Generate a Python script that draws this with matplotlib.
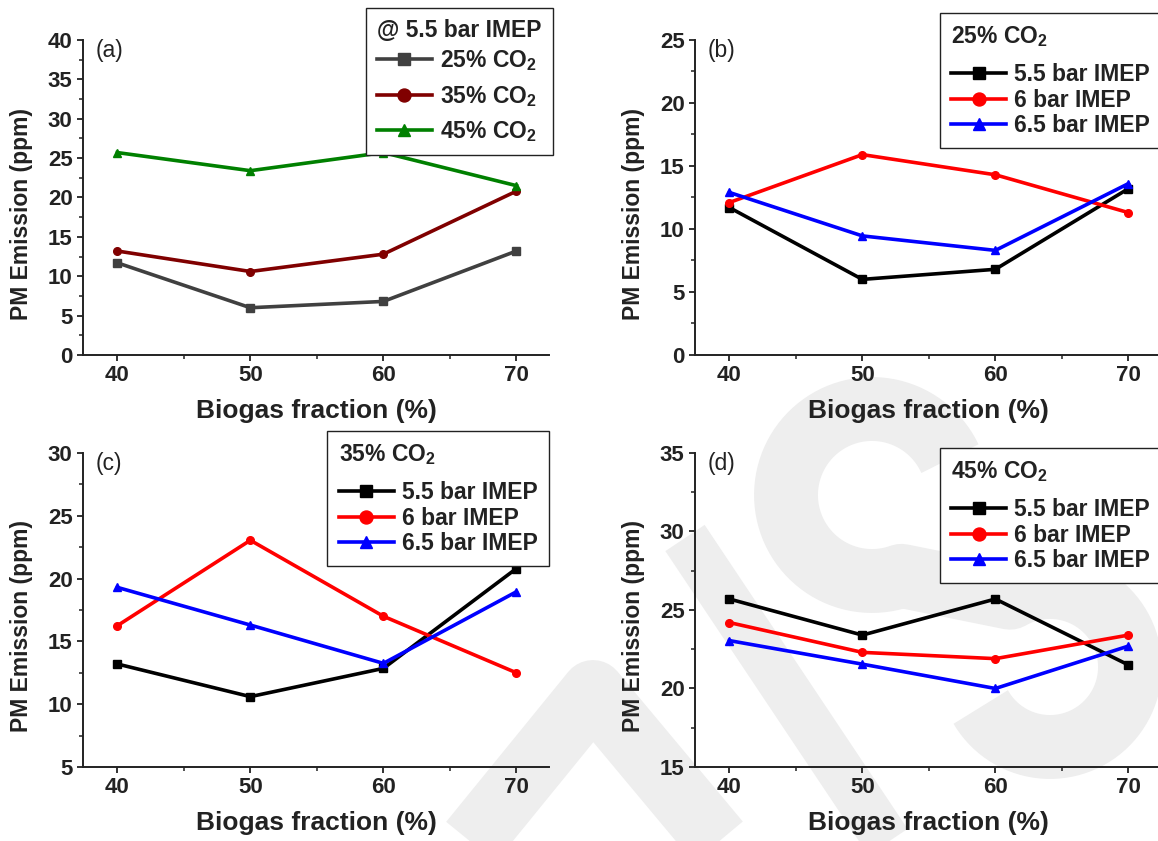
import numpy as np
import matplotlib
matplotlib.use("Agg")
import matplotlib.pyplot as plt
from matplotlib.ticker import MultipleLocator

plt.rcParams.update({
    "font.family": ["Liberation Sans", "DejaVu Sans"],
    "font.weight": "bold",
    "mathtext.fontset": "custom",
    "mathtext.rm": "Liberation Sans:bold",
    "mathtext.bf": "Liberation Sans:bold",
    "mathtext.it": "Liberation Sans:bold",
    "mathtext.default": "bf",
})

# ---------------- data ----------------
biogas = [40, 50, 60, 70]

# (a) 5.5 bar IMEP at three CO2 levels
pm_a_co2_25 = [11.7, 6.0, 6.8, 13.2]
pm_a_co2_35 = [13.2, 10.6, 12.8, 20.8]
pm_a_co2_45 = [25.7, 23.4, 25.7, 21.5]

# (b) 25% CO2 at three loads
pm_b_55 = [11.7, 6.0, 6.8, 13.2]
pm_b_60 = [12.1, 15.9, 14.3, 11.3]
pm_b_65 = [12.9, 9.45, 8.3, 13.6]

# (c) 35% CO2 at three loads
pm_c_55 = [13.2, 10.6, 12.85, 20.8]
pm_c_60 = [16.25, 23.05, 17.0, 12.5]
pm_c_65 = [19.3, 16.3, 13.25, 18.95]

# (d) 45% CO2 at three loads
pm_d_55 = [25.7, 23.4, 25.7, 21.5]
pm_d_60 = [24.2, 22.3, 21.9, 23.4]
pm_d_65 = [23.05, 21.55, 20.0, 22.7]

co2_labels = ["25% CO$_2$", "35% CO$_2$", "45% CO$_2$"]
load_labels = ["5.5 bar IMEP", "6 bar IMEP", "6.5 bar IMEP"]
panel_letters = ["(a)", "(b)", "(c)", "(d)"]
legend_titles = ["@ 5.5 bar IMEP", "25% CO$_2$", "35% CO$_2$", "45% CO$_2$"]
y_ranges = [(0, 40), (0, 25), (5, 30), (15, 35)]

W, H = 1158, 841
fig = plt.figure(figsize=(W / 100, H / 100), dpi=100)

# ---------------- faint background emblem ----------------
bg = fig.add_axes([0, 0, 1, 1], zorder=-5)
bg.set_xlim(0, W)
bg.set_ylim(H, 0)
bg.axis("off")
wm = "#eeeeee"


def arc(cx, cy, r, t0, t1, n=80):
    t = np.radians(np.linspace(t0, t1, n))
    return cx + r * np.cos(t), cy - r * np.sin(t)


ux, uy = arc(872, 495, 86, 25, 290)
lx, ly = arc(1050, 667, 80, 120, -150)
bg.plot(np.r_[ux, lx], np.r_[uy, ly], color=wm, lw=46,
        solid_capstyle="butt", solid_joinstyle="round")
bg.plot([440, 593, 750], [880, 692, 880], color=wm, lw=46,
        solid_capstyle="butt", solid_joinstyle="round")
bg.plot([685, 910], [538, 875], color=wm, lw=34, solid_capstyle="butt")

# ---------------- panels ----------------
ax_w = 0.4026
pos = [
    [0.0717, 0.5779, ax_w, 0.3746],
    [0.6002, 0.5779, ax_w, 0.3746],
    [0.0717, 0.0880, ax_w, 0.3734],
    [0.6002, 0.0880, ax_w, 0.3734],
]
legend_anchor = [
    (0.4775, 0.9905),
    (1.003, 0.9845),
    (0.4741, 0.4875),
    (1.003, 0.4673),
]

series = [
    [pm_a_co2_25, pm_a_co2_35, pm_a_co2_45],
    [pm_b_55, pm_b_60, pm_b_65],
    [pm_c_55, pm_c_60, pm_c_65],
    [pm_d_55, pm_d_60, pm_d_65],
]
colors_a = ["#404040", "#800000", "#008000"]
colors_load = ["#000000", "#ff0000", "#0000ff"]
markers = ["s", "o", "^"]
axis_color = "#222222"
leg_fs = 16.5

for i in range(4):
    ax = fig.add_axes(pos[i])
    ax.set_facecolor("none")
    cols = colors_a if i == 0 else colors_load
    labels = co2_labels if i == 0 else load_labels
    for vals, c, m, lab in zip(series[i], cols, markers, labels):
        ax.plot(biogas, vals, color=c, lw=2.6, marker=m, markersize=5.5,
                markeredgecolor=c, markerfacecolor=c, label=lab,
                clip_on=False, zorder=3)

    ax.set_xlim(37.42, 72.47)
    ax.set_ylim(*y_ranges[i])
    ax.xaxis.set_major_locator(MultipleLocator(10))
    ax.xaxis.set_minor_locator(MultipleLocator(5))
    ax.yaxis.set_major_locator(MultipleLocator(5))
    ax.yaxis.set_minor_locator(MultipleLocator(2.5))
    for s in ("top", "right"):
        ax.spines[s].set_visible(False)
    for s in ("left", "bottom"):
        ax.spines[s].set_linewidth(1.4)
        ax.spines[s].set_color(axis_color)
    ax.tick_params(which="major", direction="out", length=4.5, width=1.3,
                   color=axis_color, labelsize=16, labelcolor=axis_color,
                   pad=3)
    ax.tick_params(which="minor", direction="out", length=2.6, width=1.1,
                   color=axis_color)
    for lab in ax.get_xticklabels() + ax.get_yticklabels():
        lab.set_fontweight("bold")

    ax.set_xlabel("Biogas fraction (%)", fontsize=19, fontweight="bold",
                  color=axis_color, labelpad=9)
    ax.set_ylabel("PM Emission (ppm)", fontsize=16.5, fontweight="bold",
                  color=axis_color)
    ax.yaxis.set_label_coords(-0.108, 0.448)

    ax.text(0.026, 0.965, panel_letters[i], transform=ax.transAxes,
            fontsize=16.5, fontweight="normal", color=axis_color,
            ha="left", va="center")

    row_sp = 0.45 if i == 0 else 0.1
    title_sep = 4.3 if i == 0 else 10.0
    leg = ax.legend(loc="upper right", bbox_to_anchor=legend_anchor[i],
                    bbox_transform=fig.transFigure, borderaxespad=0,
                    title=legend_titles[i], alignment="left",
                    prop={"weight": "bold", "size": leg_fs},
                    title_fontproperties={"weight": "bold", "size": leg_fs},
                    markerscale=1.7, handlelength=2.4, handletextpad=0.35,
                    labelspacing=row_sp, borderpad=0.5, fancybox=False,
                    framealpha=1, edgecolor="#222222", facecolor="white")
    # spacing between the legend title and the first entry
    leg._legend_box.sep = title_sep
    leg.get_frame().set_linewidth(1.0)
    leg.get_title().set_color(axis_color)
    for t in leg.get_texts():
        t.set_color(axis_color)

fig.savefig("out.png", dpi=100)
